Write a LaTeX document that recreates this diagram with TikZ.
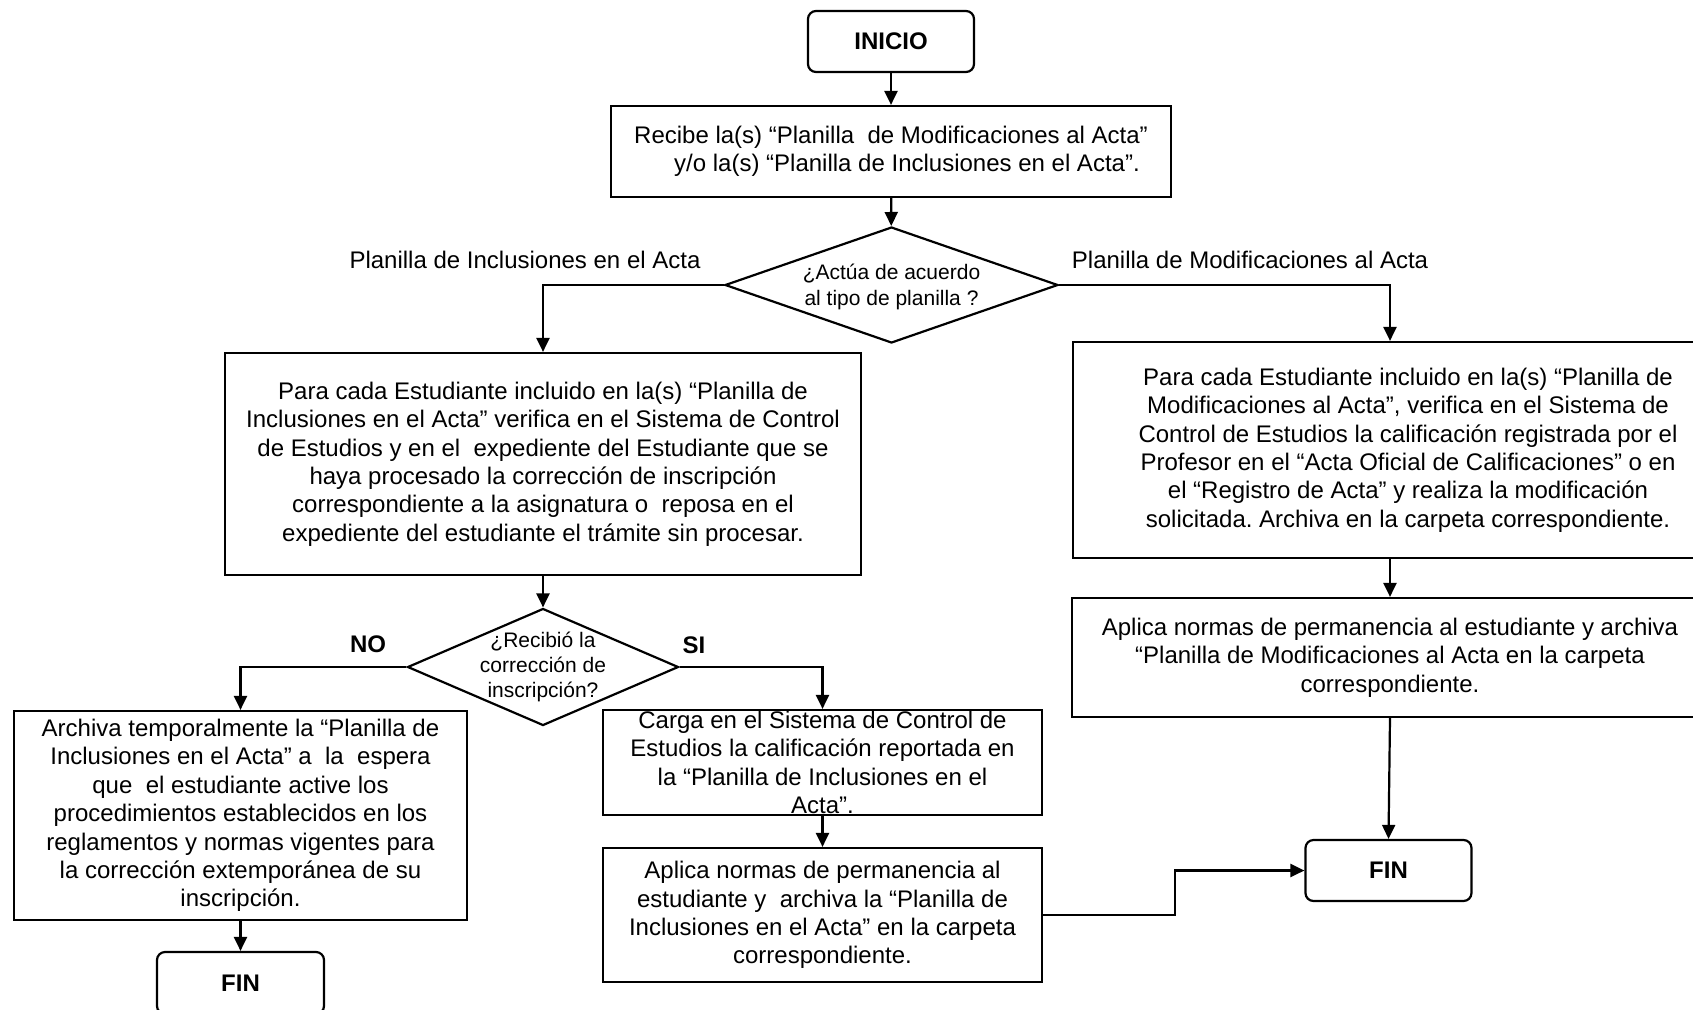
\documentclass[tikz,border=0pt]{standalone}
\usepackage{fontspec}
\setmainfont{Liberation Sans}
\usepackage{tikz}
\usetikzlibrary{arrows.meta,shapes.geometric}
\frenchspacing

\begin{document}
\begin{tikzpicture}[x=0.5pt,y=-0.5pt,
                terminal/.style={draw,rectangle,rounded corners=4pt,line width=1.1pt,minimum width=83pt,minimum height=30.5pt,font=\fontsize{12}{14.2}\selectfont\bfseries},
                proceso/.style={draw,rectangle,line width=1.1pt,align=center,inner sep=1pt,font=\fontsize{12}{14.2}\selectfont},
                texto/.style={align=center,inner sep=0pt,font=\fontsize{12}{14.2}\selectfont},
                decision/.style={draw,diamond,line width=1.1pt,inner sep=0pt},
                pregunta/.style={align=center,inner sep=0pt,font=\fontsize{10.5}{13}\selectfont},
                etiqueta/.style={anchor=base,inner sep=0pt,font=\fontsize{12}{14.2}\selectfont},
                flecha/.style={line width=1.1pt,-{Triangle[length=7pt,width=6.5pt]}}]
                \useasboundingbox (0,0) rectangle (1693,1009);
                \clip (0,0) rectangle (1693,1009);

                \node[terminal] (inicio) at (891,41.5) {INICIO};
                \node[proceso,minimum width=280pt,minimum height=45.5pt] (recibe) at (891,151.5) {Recibe la(s) “Planilla\ \ de Modificaciones al Acta”\\\hspace*{16pt}y/o la(s) “Planilla de Inclusiones en el Acta”.};
                \node[decision,minimum width=166.5pt,minimum height=58pt] (tipo) at (891.5,285) {};
                \node[pregunta] (tipotxt) at ([yshift=-1pt]tipo.center) {¿Actúa de acuerdo\\al tipo de planilla ?};
                \node[etiqueta] (lblinclus) at (525,268) {Planilla de Inclusiones en el Acta};
                \node[etiqueta] (lblmodif) at (1250,268) {Planilla de Modificaciones al Acta};

                \node[proceso,minimum width=318pt,minimum height=111pt] (inclus) at (543,464) {Para cada Estudiante incluido en la(s) “Planilla de\\Inclusiones en el Acta” verifica en el Sistema de Control\\de Estudios y en el\ \ expediente del Estudiante que se\\haya procesado la corrección de inscripción\\correspondiente a la asignatura o\ \ reposa en el\\expediente del estudiante el trámite sin procesar.};
                \node[proceso,minimum width=335pt,minimum height=108pt] (modif) at (1408,450) {Para cada Estudiante incluido en la(s) “Planilla de\\Modificaciones al Acta”, verifica en el Sistema de\\Control de Estudios la calificación registrada por el\\Profesor en el “Acta Oficial de Calificaciones” o en\\el “Registro de Acta” y realiza la modificación\\solicitada. Archiva en la carpeta correspondiente.};

                \node[decision,minimum width=135.5pt,minimum height=58.5pt] (recibio) at (543,667) {};
                \node[pregunta,font=\fontsize{10.5}{12.5}\selectfont] (recibiotxt) at (recibio.center) {¿Recibió la\\corrección de\\inscripción?};
                \node[etiqueta,font=\fontsize{12}{14.2}\selectfont\bfseries] (lblno) at (368,652) {NO};
                \node[etiqueta,font=\fontsize{12}{14.2}\selectfont\bfseries] (lblsi) at (694,653) {SI};

                \node[proceso,minimum width=226.5pt,minimum height=104.5pt] (archiva) at (240.5,815.5) {Archiva temporalmente la “Planilla de\\Inclusiones en el Acta” a\ \ la\ \ espera\\que\ \ el estudiante active los\\procedimientos establecidos en los\\reglamentos y normas vigentes para\\la corrección extemporánea de su\\inscripción.};
                \node[terminal,minimum width=83.5pt,minimum height=31pt] (finizq) at (240.5,983) {FIN};

                \node[proceso,minimum width=219.5pt,minimum height=52.5pt] (carga) at (822.5,762.5) {};
                \node[texto] (cargatxt) at (carga.center) {Carga en el Sistema de Control de\\Estudios la calificación reportada en\\la “Planilla de Inclusiones en el\\Acta”.};
                \node[proceso,minimum width=219.5pt,minimum height=67pt] (aplicaizq) at (822.5,915) {Aplica normas de permanencia al\\estudiante y\ \ archiva la “Planilla de\\Inclusiones en el Acta” en la carpeta\\correspondiente.};

                \node[proceso,minimum width=318pt,minimum height=59.5pt] (aplicader) at (1390,657.5) {Aplica normas de permanencia al estudiante y archiva\\“Planilla de Modificaciones al Acta en la carpeta\\correspondiente.};
                \node[terminal] (finder) at (1388.5,870.5) {FIN};

                \draw[flecha] (inicio) -- (recibe);
                \draw[flecha] (recibe) -- (tipo);
                \draw[flecha] (tipo.west) -| (inclus.north);
                \draw[flecha] (tipo.east) -| ([xshift=-9pt]modif.north);
                \draw[flecha] (inclus) -- (recibio);
                \draw[flecha] (recibio.west) -| (archiva.north);
                \draw[flecha] (recibio.east) -| (carga.north);
                \draw[flecha] (archiva) -- (finizq);
                \draw[flecha] (carga) -- (aplicaizq);
                \draw[flecha] ([xshift=-9pt]modif.south) -- (aplicader.north);
                \draw[flecha] (aplicader.south) -- (finder.north);
                \draw[flecha] (aplicaizq.east) -- ++(132,0) |- (finder.west);

            \end{tikzpicture}
\end{document}
